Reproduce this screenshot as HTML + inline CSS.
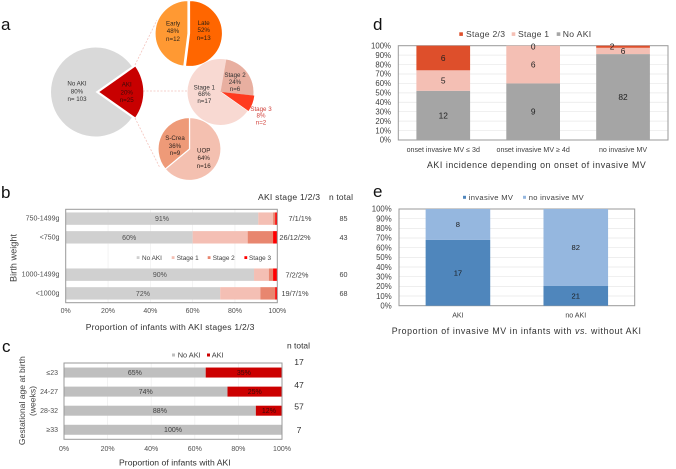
<!DOCTYPE html>
<html lang="en">
<head>
<meta charset="utf-8">
<title>AKI incidence figure</title>
<style>
html,body{margin:0;padding:0;background:#fff;width:676px;height:469px;overflow:hidden}
svg{display:block;filter:blur(0.35px)}
text{font-family:"Liberation Sans",sans-serif}
</style>
</head>
<body>
<svg id="fig" xmlns="http://www.w3.org/2000/svg" width="676" height="469" viewBox="0 0 676 469"></svg>
<script>
// Panel a
const mainValues = [25, 103];
const timingValues = [13, 12];
const stageValues = [6, 2, 17];
const criteriaValues = [16, 9];

// Panel b
const birthCategories = ['750-1499g', '<750g', '', '1000-1499g', '<1000g'];
const birthNoAki = [91, 60, 0, 89, 73];
const birthStage1 = [7, 26, 0, 7, 19];
const birthStage2 = [1, 12, 0, 2, 7];
const birthStage3 = [1, 2, 0, 2, 1];
const birthLabels = ['91%', '60%', '', '90%', '72%'];
const birthStageText = ['7/1/1%', '26/12/2%', '', '7/2/2%', '19/7/1%'];
const birthTotals = ['85', '43', '', '60', '68'];
const percentTicks20 = [0, 20, 40, 60, 80, 100];

// Panel c
const gestCategories = ['≤23', '24-27', '28-32', '≥33'];
const gestNoAki = [65, 75, 88, 100];
const gestAki = [35, 25, 12, 0];
const gestNoAkiLabels = ['65%', '74%', '88%', '100%'];
const gestAkiLabels = ['35%', '25%', '12%', ''];
const gestTotals = ['17', '47', '57', '7'];

// Panel d
const onsetCategories = ['onset invasive MV ≤ 3d', 'onset invasive MV ≥ 4d', 'no invasive MV'];
const onsetNoAki = [12, 9, 82];
const onsetStage1 = [5, 6, 6];
const onsetStage23 = [6, 0, 2];
const percentTicks10 = [0, 10, 20, 30, 40, 50, 60, 70, 80, 90, 100];

// Panel e
const mvCategories = ['AKI', 'no AKI'];
const mvInvasive = [17, 21];
const mvNone = [8, 82];

const NS = 'http://www.w3.org/2000/svg';
const fig = document.getElementById('fig');

function mk(tag, attrs) {
  const el = document.createElementNS(NS, tag);
  for (const k in attrs) el.setAttribute(k, attrs[k]);
  fig.appendChild(el);
  return el;
}
function label(x, y, str, size, fill, anchor, len) {
  const a = {x: x, y: y + size * 0.35, 'font-size': size, fill: fill, 'text-anchor': anchor || 'middle'};
  if (len) { a.textLength = len; a.lengthAdjust = 'spacing'; }
  const el = mk('text', a);
  el.textContent = str;
  return el;
}
function vlabel(x, y, str, size, fill) {
  const el = mk('text', {x: 0, y: 0, 'font-size': size, fill: fill, 'text-anchor': 'middle',
    transform: 'translate(' + (x + size * 0.35) + ' ' + y + ') rotate(-90)'});
  el.textContent = str;
  return el;
}
function box(x, y, w, h, fill) {
  return mk('rect', {x: x, y: y, width: Math.max(w, 0), height: Math.max(h, 0), fill: fill});
}
function line(x1, y1, x2, y2, stroke, sw, dash) {
  const a = {x1: x1, y1: y1, x2: x2, y2: y2, stroke: stroke, 'stroke-width': sw};
  if (dash) a['stroke-dasharray'] = dash;
  return mk('line', a);
}
function frame(x, y, w, h) {
  return mk('rect', {x: x, y: y, width: w, height: h, fill: 'none', stroke: '#9a9a9a', 'stroke-width': 1});
}
function slice(cx, cy, r, a0, a1, fill, stroke) {
  const p = a => [cx + r * Math.sin(a * Math.PI / 180), cy - r * Math.cos(a * Math.PI / 180)];
  const s = p(a0), e = p(a1);
  const large = (a1 - a0) > 180 ? 1 : 0;
  const d = 'M' + cx + ' ' + cy + 'L' + s[0] + ' ' + s[1] + 'A' + r + ' ' + r + ' 0 ' + large + ' 1 ' + e[0] + ' ' + e[1] + 'Z';
  const a = {d: d, fill: fill};
  if (stroke) { a.stroke = stroke; a['stroke-width'] = 1.2; }
  return mk('path', a);
}
function sum(arr) { return arr.reduce((s, v) => s + v, 0); }
function sweep(values, i) { return values[i] / sum(values) * 360; }

let el;

// Panel letters
[['a', 1, 30], ['b', 1, 198], ['c', 2, 352], ['d', 373, 30], ['e', 373, 197]].forEach(function (p) {
  const t = mk('text', {x: p[1], y: p[2], 'font-size': 17, fill: '#111'});
  t.textContent = p[0];
  
  
});

// ---------- Panel a ----------
[[135, 65, 157, 20], [143, 91, 187, 91], [135, 118, 160, 168]].forEach(function (c) {
  const l = line(c[0], c[1], c[2], c[3], '#f4c4bd', 0.8, '2 1.5');
  
  
});

const akiSweep = sweep(mainValues, 0);
el = slice(95.5, 92, 44.5, 90 + akiSweep / 2, 90 - akiSweep / 2 + 360, '#d9d9d9');


el = slice(99.3, 92, 44, 90 - akiSweep / 2, 90 + akiSweep / 2, '#c80000');



const lateSweep = sweep(timingValues, 0);
el = slice(189.5, 33.5, 33, 0, lateSweep, '#ff6600', '#fff');


el = slice(188, 33.5, 33, lateSweep, 360, '#ff9933', '#fff');



const stage2Start = 10;
const stage3Start = stage2Start + sweep(stageValues, 0);
const stage1Start = stage3Start + sweep(stageValues, 1);
el = slice(220.5, 92, 33, stage1Start, stage1Start + sweep(stageValues, 2), '#f8d9d2');


el = slice(220.5, 92, 33, stage2Start, stage3Start, '#e8afa0');


el = slice(221.5, 92, 33, stage3Start, stage1Start, '#ff3b1f');



const uopSweep = sweep(criteriaValues, 0);
el = slice(189.5, 149, 31.5, 0, uopSweep, '#f4c0b0', '#fff');


el = slice(189.5, 149, 31.5, uopSweep, 360, '#ee9a78', '#fff');



[
  [77, [83.3, 91.3, 98.7], ['No AKI', '80%', 'n= 103'], '#333333'],
  [126.7, [84.3, 92.3, 100], ['AKI', '20%', 'n=25'], '#3a0a08'],
  [173, [23.3, 30.7, 38.7], ['Early', '48%', 'n=12'], '#302418'],
  [203.7, [22.7, 30, 38], ['Late', '52%', 'n=13'], '#302010'],
  [204.3, [87.3, 94, 100.7], ['Stage 1', '68%', 'n=17'], '#333333'],
  [235, [74.7, 81.7, 88.7], ['Stage 2', '24%', 'n=6'], '#333333'],
  [261, [108.7, 115.3, 122.3], ['Stage 3', '8%', 'n=2'], '#d0403a'],
  [175, [137.7, 145.7, 153], ['S-Crea', '36%', 'n=9'], '#302420'],
  [203.7, [150.3, 158, 165.7], ['UOP', '64%', 'n=16'], '#302420']
].forEach(function (g) {
  g[2].forEach(function (s, i) {
    const t = label(g[0], g[1][i], s, 6.2, g[3]);
    
    
  });
});

// ---------- Panel b ----------
const bX = v => 65.7 + v / 100 * 211.6;
const bBand = i => 209.3 + i * 18.68;
const bBarH = 12.4;
const bColors = ['#d0d0d0', '#f4bfb4', '#e8866f', '#ff0000'];
const bSeries = [birthNoAki, birthStage1, birthStage2, birthStage3];
const bNames = ['no-aki', 'stage-1', 'stage-2', 'stage-3'];

percentTicks20.forEach(function (t) {
  const g = line(bX(t), 209.3, bX(t), 302.7, '#eeeeee', 0.7);
  
  
  const l = label(bX(t), 310.7, t + '%', 7, '#505050');
  
  
});
birthCategories.forEach(function (c, i) {
  const y = bBand(i) + (18.68 - bBarH) / 2;
  const cy = y + bBarH / 2;
  if (c === '') return;
  let acc = 0;
  bSeries.forEach(function (s, k) {
    const r = box(bX(acc), y, bX(acc + s[i]) - bX(acc), bBarH, bColors[k]);
    
    
    acc += s[i];
  });
  let t = label(59.5, cy - 0.5, c, 7.1, '#505050', 'end');
  
  
  t = label(bX(birthNoAki[i] / 2), cy, birthLabels[i], 7, '#505050');
  
  
  t = label(279 + [21, 16, 0, 18, 16][i], cy, birthStageText[i], 7.4, '#404040');
  
  
  t = label(343.5, cy, birthTotals[i], 7.2, '#404040');
  
  
});
el = frame(65.7, 209.3, 211.6, 93.4);



[[138, 142, 'No AKI', '#d0d0d0'], [173, 176.7, 'Stage 1', '#f4bfb4'], [209, 212.7, 'Stage 2', '#e8866f'], [245.7, 249, 'Stage 3', '#ff0000']].forEach(function (e) {
  const s = box(e[0] - 1.3, 256.2, 2.8, 2.8, e[3]);
  
  
  const t = label(e[1], 257.7, e[2], 6.4, '#404040', 'start');
  
  
});
el = vlabel(13.5, 258, 'Birth weight', 9.2, '#404040');


el = label(85.7, 327, 'Proportion of infants with AKI stages 1/2/3', 8.6, '#303030', 'start', 168.7);


el = label(258, 197, 'AKI stage 1/2/3', 8.6, '#303030', 'start', 62);


el = label(329, 197, 'n total', 8.4, '#303030', 'start', 24);



// ---------- Panel c ----------
const cX = v => 64 + v / 100 * 218;
const cBand = i => 363 + i * 19.08;
const cBarH = 10;

percentTicks20.forEach(function (t) {
  const g = line(cX(t), 363, cX(t), 439.3, '#eeeeee', 0.7);
  
  
  const l = label(cX(t), 448.3, t + '%', 7, '#505050');
  
  
});
gestCategories.forEach(function (c, i) {
  const y = cBand(i) + (19.08 - cBarH) / 2;
  const cy = y + cBarH / 2;
  let r = box(cX(0), y, cX(gestNoAki[i]) - cX(0), cBarH, '#bfbfbf');
  
  
  r = box(cX(gestNoAki[i]), y, cX(gestNoAki[i] + gestAki[i]) - cX(gestNoAki[i]), cBarH, '#cc0000');
  
  
  let t = label(58, cy, c, 7, '#505050', 'end');
  
  
  t = label(cX(gestNoAki[i] / 2), cy, gestNoAkiLabels[i], 7, '#404040');
  
  
  t = label(cX(gestNoAki[i] + gestAki[i] / 2), cy, gestAkiLabels[i], 7, '#3a0a08');
  
  
  t = label(299, [362, 385, 406.7, 430][i], gestTotals[i], 8.6, '#303030');
  
  
});
el = frame(64, 363, 218, 76.3);


[[172, 177.7, 'No AKI', '#bfbfbf'], [207, 211.7, 'AKI', '#cc0000']].forEach(function (e) {
  const s = box(e[0], 353.5, 3, 3, e[3]);
  
  
  const t = label(e[1], 355, e[2], 7.4, '#404040', 'start');
  
  
});
el = vlabel(22, 400.7, 'Gestational age at birth', 8.6, '#404040');


el = vlabel(32.3, 401, '(weeks)', 8.6, '#404040');


el = label(119, 462.7, 'Proportion of infants with AKI', 8.6, '#303030', 'start', 111.7);


el = label(287, 345.7, 'n total', 8.4, '#303030', 'start', 23);



// ---------- Panel d ----------
const dY = v => 140 - v / 100 * 94.3;
const dBand = i => 398.3 + i * 89.9;
const dBarW = 53.7;

percentTicks10.forEach(function (t) {
  const g = line(398.3, dY(t), 668, dY(t), '#e8e8e8', 0.7);
  
  
  const l = label(391, dY(t), t + '%', 7.8, '#404040', 'end');
  
  
});
el = frame(398.3, 45.7, 269.7, 94.3);


onsetCategories.forEach(function (c, i) {
  const x = dBand(i) + (89.9 - dBarW) / 2;
  const cx = x + dBarW / 2;
  const total = onsetNoAki[i] + onsetStage1[i] + onsetStage23[i];
  const p1 = onsetNoAki[i] / total * 100;
  const p2 = onsetStage1[i] / total * 100;
  const p3 = onsetStage23[i] / total * 100;
  let r = box(x, dY(p1), dBarW, dY(0) - dY(p1), '#a5a5a5');
  
  
  r = box(x, dY(p1 + p2), dBarW, dY(p1) - dY(p1 + p2), '#f4bfb4');
  
  
  r = box(x, dY(p1 + p2 + p3), dBarW, dY(p1 + p2) - dY(p1 + p2 + p3), '#de4f2b');
  
  
  let t = label(cx, dY(p1 / 2), onsetNoAki[i], 8.4, '#1f1f1f');
  
  
  t = label(cx, dY(p1 + p2 / 2), onsetStage1[i], 8.4, '#1f1f1f');
  
  
  t = label(i === 2 ? cx - 11 : cx, i === 1 ? dY(99) : dY(p1 + p2 + p3 / 2), onsetStage23[i], 8.4, '#1f1f1f');
  
  
  t = label(cx, 149.3, c, 7.1, '#404040');
  
  
});
[[459.3, 466, 'Stage 2/3', '#de4f2b', 39], [511.7, 518, 'Stage 1', '#f4bfb4', 31], [556.7, 562.7, 'No AKI', '#a5a5a5', 28.5]].forEach(function (e) {
  const s = box(e[0], 32.3, 3.6, 3.6, e[3]);
  
  
  const t = label(e[1], 34, e[2], 8.6, '#404040', 'start', e[4]);
  
  
});
el = label(427, 165, 'AKI incidence depending on onset of invasive MV', 8.8, '#303030', 'start', 218.7);



// ---------- Panel e ----------
const eY = v => 305.7 - v / 100 * 96.7;
const eBand = i => 399 + i * 117.85;
const eBarW = 64.6;

percentTicks10.forEach(function (t) {
  const g = line(399, eY(t), 634.7, eY(t), '#e8e8e8', 0.7);
  
  
  const l = label(391.7, eY(t), t + '%', 7.8, '#404040', 'end');
  
  
});
el = frame(399, 209, 235.7, 96.7);


mvCategories.forEach(function (c, i) {
  const x = eBand(i) + (117.85 - eBarW) / 2;
  const cx = x + eBarW / 2;
  const total = mvInvasive[i] + mvNone[i];
  const p1 = mvInvasive[i] / total * 100;
  let r = box(x, eY(p1), eBarW, eY(0) - eY(p1), '#4f86bc');
  
  
  r = box(x, eY(100), eBarW, eY(p1) - eY(100), '#95b7df');
  
  
  let t = label(cx, eY(p1 / 2), mvInvasive[i], 7.6, '#1a1a1a');
  
  
  t = label(cx, eY(p1 + (100 - p1) / 2), mvNone[i], 7.6, '#1a1a1a');
  
  
  t = label(cx, 315, c, 7.1, '#404040');
  
  
});
[[463, 468.7, 'invasive MV', '#4f86bc', 44.3], [523, 528.7, 'no invasive MV', '#95b7df', 55]].forEach(function (e) {
  const s = box(e[0], 195.8, 3, 3, e[3]);
  
  
  const t = label(e[1], 197.3, e[2], 7.6, '#404040', 'start', e[4]);
  
  
});
el = label(391.7, 330.7, '', 8.8, '#303030', 'start', 249.3);
el.innerHTML = 'Proportion of invasive MV in infants with <tspan font-style="italic">vs.</tspan> without AKI';


</script>
</body>
</html>
